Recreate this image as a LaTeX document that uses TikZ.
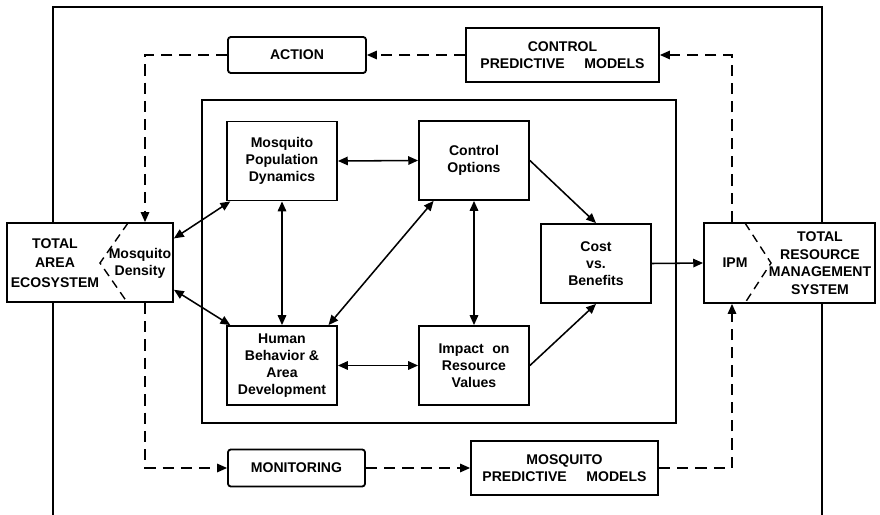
\documentclass[tikz,border=0pt]{standalone}
\usepackage{fontspec}
\setmainfont{Liberation Sans}
\usepackage{tikz}
\usetikzlibrary{arrows.meta,positioning}

\begin{document}
\begin{tikzpicture}[x=0.25mm, y=-0.25mm,
  box/.style={draw, line width=1.3pt, fill=white, align=center, inner sep=0pt,
    font=\fontsize{10}{12}\selectfont\bfseries},
  inbox/.style={box, minimum width=27.5mm, minimum height=19.75mm},
  txt/.style={align=center, inner sep=0pt, font=\fontsize{10}{12}\selectfont\bfseries},
  flow/.style={line width=0.9pt, dash pattern=on 8pt off 5pt, -{Triangle[length=7pt,width=6pt]}},
  link/.style={line width=1.1pt, {Triangle[length=7pt,width=6pt]}-{Triangle[length=7pt,width=6pt]}},
  lead/.style={line width=1.1pt, -{Triangle[length=7pt,width=6pt]}},
  cut/.style={line width=1pt, dash pattern=on 6pt off 4pt}]
  \useasboundingbox (0,0) rectangle (880,515);

  % frames
  \draw[line width=1.2pt] (53,515) -- (53,7) -- (822,7) -- (822,515);
  \draw[line width=1.2pt] (202,100) rectangle (676,423);

  % outer boxes
  \node[box, minimum width=41.5mm, minimum height=19.75mm] (area) at (90,262.5) {};
  \node[txt, font=\fontsize{10}{14}\selectfont\bfseries] (areatxt) at (55,263) {TOTAL\\AREA\\ECOSYSTEM};
  \node[txt] (dens) at (140,263) {Mosquito\\Density};
  \draw[cut] (128,223) -- (100,263) -- (127,302);

  \node[box, minimum width=42.75mm, minimum height=20mm] (ipm) at (789.5,263) {};
  \node[txt] (ipmtxt) at (735,263) {IPM};
  \node[txt, font=\fontsize{10}{12.5}\selectfont\bfseries] (trms) at (820,263) {TOTAL\\RESOURCE\\MANAGEMENT\\SYSTEM};
  \draw[cut] (745,223) -- (771,263) -- (745,303);

  \node[box, rounded corners=2pt, minimum width=34.5mm, minimum height=9mm] (action) at (297,55) {ACTION};
  \node[box, minimum width=48.25mm, minimum height=13.5mm] (cpm) at (562.5,55) {CONTROL\\PREDICTIVE\hspace{1.4em}MODELS};
  \node[box, rounded corners=2pt, minimum width=34.25mm, minimum height=9.25mm] (mon) at (296.5,468) {MONITORING};
  \node[box, minimum width=46.75mm, minimum height=13.5mm] (mpm) at (564.5,468) {MOSQUITO\\PREDICTIVE\hspace{1.4em}MODELS};

  % inner boxes
  \node[inbox] (mpd) at (282,161) {Mosquito\\Population\\Dynamics};
  \node[inbox] (co) at (474,160.5) {Control\\Options};
  \node[inbox] (cb) at (596,263.5) {Cost\\vs.\\Benefits};
  \node[inbox] (hb) at (282,365.5) {Human\\Behavior \&\\Area\\Development};
  \node[inbox] (irv) at (474,365.5) {Impact\hspace{0.6em}on\\Resource\\Values};

  % dashed loop
  \coordinate (lcol) at (145,55);
  \coordinate (lbot) at (145,468);
  \coordinate (rcol) at (732,55);
  \coordinate (rbot) at (732,468);
  \draw[flow] (cpm.west) -- (action.east);
  \draw[flow] (action.west) -- (lcol) -- (lcol |- area.north);
  \draw[flow] (lcol |- area.south) -- (lbot) -- (mon.west);
  \draw[flow] (mon.east) -- (mpm.west);
  \draw[flow] (mpm.east) -- (rbot) -- (rbot |- ipm.south);
  \draw[flow] (rcol |- ipm.north) -- (rcol) -- (cpm.east);

  % solid links
  \draw[link] (area.16) -- (mpd.218);
  \draw[link] (area.-18) -- (hb.142);
  \draw[link] (mpd.south) -- (hb.north);
  \draw[link] (mpd.east) -- (co.west);
  \draw[link] (hb.41) -- (co.225);
  \draw[link] (co.south) -- (irv.north);
  \draw[link] (hb.east) -- (irv.west);
  \draw[lead] (co.east) -- (cb.north);
  \draw[lead] (irv.east) -- (cb.south);
  \draw[lead] (cb.east) -- (ipm.west);
\end{tikzpicture}
\end{document}
